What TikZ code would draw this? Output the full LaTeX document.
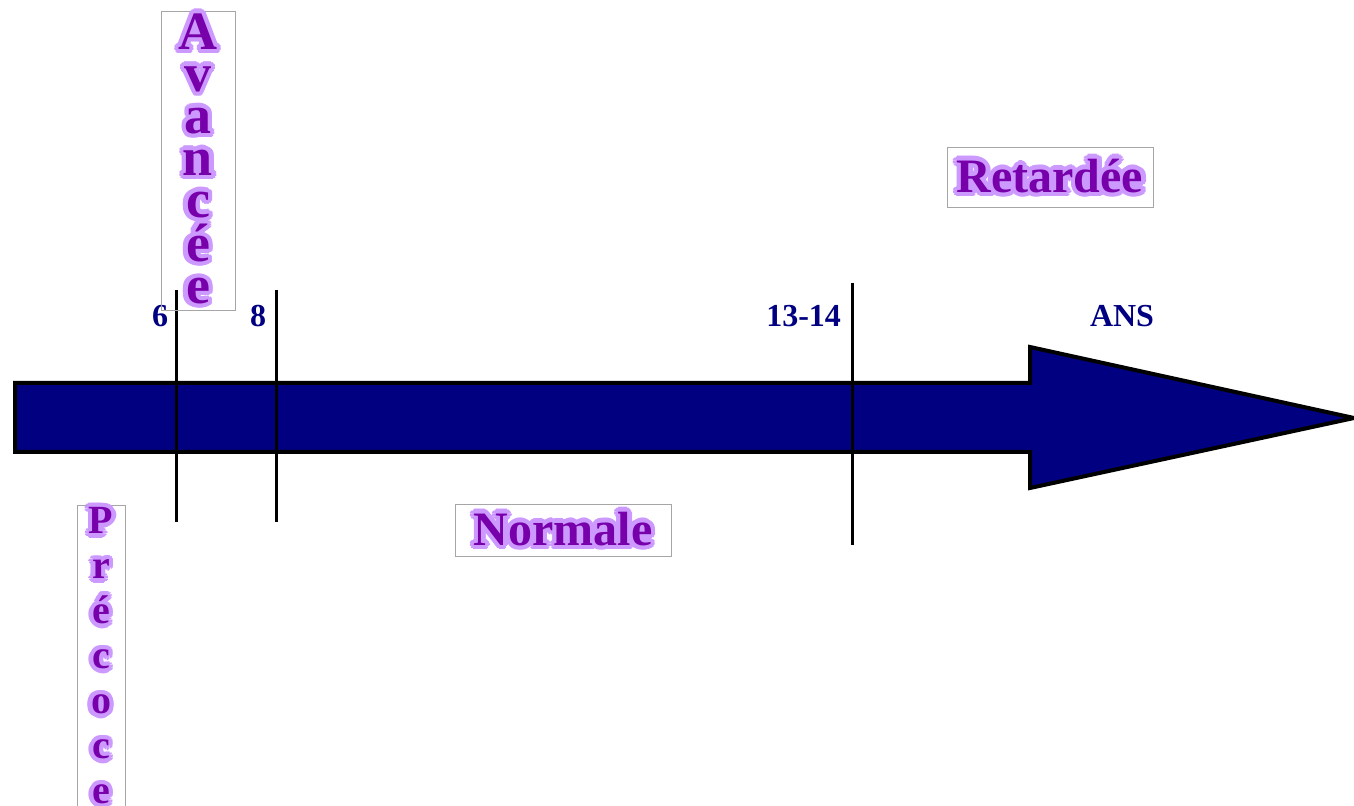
\documentclass[tikz,border=0pt]{standalone}
\usepackage{fontspec}
\setmainfont{Liberation Serif}
\usepackage[copies]{contour}
\usepackage{tikz}

\definecolor{navyblue}{RGB}{0,0,128}
\definecolor{lavhalo}{RGB}{204,153,255}
\definecolor{purpletext}{RGB}{120,0,170}
\contourlength{2.2pt}
\newcommand{\halo}[1]{\contour{lavhalo}{\color{purpletext}#1}}

\begin{document}
\begin{tikzpicture}[x=0.5pt,y=-0.5pt,
    tick/.style={line width=1.5pt},
    age/.style={text=navyblue,font=\fontsize{16}{16}\selectfont\bfseries},
    phase/.style={draw=gray!70,line width=0.5pt,inner sep=1pt,font=\fontsize{24}{24}\selectfont\bfseries},
    stack/.style={draw=gray!70,line width=0.5pt,inner sep=1pt,align=center}]
    \useasboundingbox (0,0) rectangle (1354,806);
    % arrow
    \draw[fill=navyblue,line width=2pt,line join=miter] (15,383) -- (1030,383) -- (1030,347) -- (1354,418)
        -- (1030,488) -- (1030,452) -- (15,452) -- cycle;
    \draw[tick] (176,290) -- (176,522);
    \draw[tick] (276,290) -- (276,522);
    \draw[tick] (852,283) -- (852,545);
    \node[age] (six) at (160,316) {6};
    \node[age] (eight) at (258,316) {8};
    \node[age,anchor=east] (treize) at (848,316) {13-14};
    \node[age] (ans) at (1122,316) {ANS};
    % phases
    \node[stack,font=\fontsize{27}{21}\selectfont\bfseries,minimum width=37pt] (avancee) at (198,161)
        {\halo{A}\\\halo{v}\\\halo{a}\\\halo{n}\\\halo{c}\\\halo{é}\\\halo{e}};
    \node[stack,font=\fontsize{20}{22.5}\selectfont\bfseries,minimum width=24pt,anchor=north] (precoce) at (101,505)
        {\halo{P}\\\halo{r}\\\halo{é}\\\halo{c}\\\halo{o}\\\halo{c}\\\halo{e}};
    \node[phase,minimum width=108pt,minimum height=26pt] (normale) at (563,531) {\halo{Normale}};
    \node[phase,minimum width=103pt,minimum height=30pt] (retardee) at (1050,178) {\halo{Retardée}};
\end{tikzpicture}
\end{document}
